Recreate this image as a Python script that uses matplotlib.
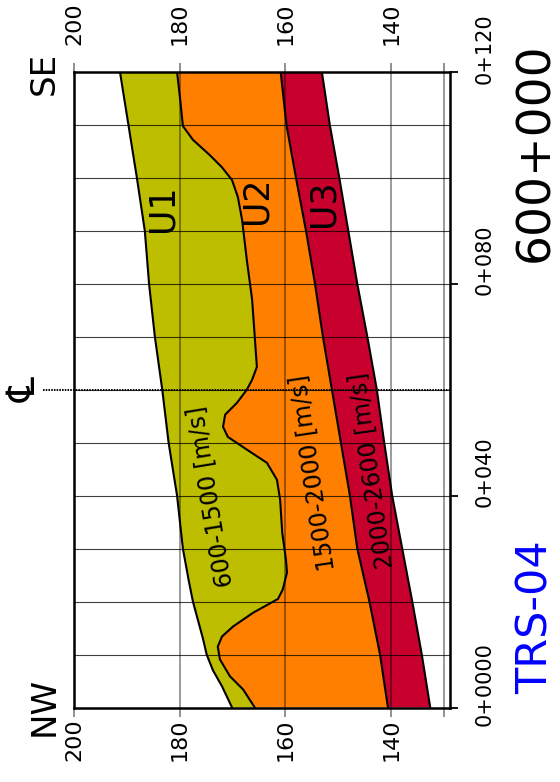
import matplotlib
matplotlib.use("Agg")
import matplotlib.pyplot as plt

# Seismic refraction section TRS-04, drawn turned on its side:
# horizontal axis = elevation (m), vertical axis = chainage (m)

# ground surface
surface_dist = [0, 4, 7, 10, 13, 20, 24, 30, 40, 50, 60, 70, 80, 90, 100, 110, 120]
surface_elev = [170.1, 172.0, 173.7, 174.9, 175.6, 177.5, 178.3, 179.4, 180.5,
                182.1, 183.3, 184.7, 185.8, 186.6, 188.1, 189.7, 191.3]

# U1 / U2 interface
u1u2_dist = [0, 3.4, 5.9, 9.1, 11.5, 13.4, 15.3, 17.9, 20.5, 22.3, 25.5, 27.9, 33,
             39.2, 43, 46.2, 48.7, 51.1, 53, 55.3, 57.5, 60, 61.9, 64.3, 70, 77,
             84.5, 92.1, 96.4, 99.6, 102, 104.3, 107.2, 109.8, 114.7, 120]
u1u2_elev = [165.8, 168.0, 170.5, 172.4, 172.8, 172.0, 169.9, 166.1, 161.4, 160.5,
             159.7, 159.9, 160.6, 161.0, 161.6, 163.5, 167.3, 170.9, 171.8, 171.4,
             169.2, 167.3, 166.3, 165.4, 165.8, 166.3, 167.3, 168.2, 169.0, 170.1,
             172.0, 174.3, 177.5, 179.4, 179.9, 180.5]

# U2 / U3 interface
u2u3_dist = [0, 10, 20, 30, 40, 50, 60, 70, 80, 90, 100, 110, 120]
u2u3_elev = [140.6, 142.1, 144.1, 146.4, 147.8, 149.5, 151.2, 152.9, 154.4,
             156.1, 158.0, 159.8, 160.9]

# base of U3
u3base_dist = [0, 10, 20, 30, 40, 50, 60, 70, 80, 90, 100, 110, 120]
u3base_elev = [132.6, 134.2, 136.0, 137.9, 139.8, 141.3, 142.7, 144.5, 146.4,
               148.1, 149.8, 151.6, 153.1]

layer_names = ["U1", "U2", "U3"]
velocity_labels = ["600-1500 [m/s]", "1500-2000 [m/s]", "2000-2600 [m/s]"]
layer_colors = ["#BEBE00", "#FF8000", "#C8002D"]

elev_ticks = [200, 180, 160, 140, 130]
elev_ticklabels = ["200", "180", "160", "140", ""]
dist_ticks = [0, 40, 80, 120]
dist_ticklabels = ["0+0000", "0+040", "0+080", "0+120"]
grid_dist = [10, 20, 30, 40, 50, 60, 70, 80, 90, 100, 110]
centerline_dist = 60

W, H = 560, 782
fig = plt.figure(figsize=(W / 100, H / 100), dpi=100)
ax = fig.add_axes([74 / W, 1 - 707.5 / H, 376 / W, 635.5 / H])
ax.set_xlim(200, 128.86)
ax.set_ylim(0, 120)


def band(top_e, top_d, bot_e, bot_d):
    return list(top_e) + list(bot_e)[::-1], list(top_d) + list(bot_d)[::-1]


bands = [
    band(surface_elev, surface_dist, u1u2_elev, u1u2_dist),
    band(u1u2_elev, u1u2_dist, u2u3_elev, u2u3_dist),
    band(u2u3_elev, u2u3_dist, u3base_elev, u3base_dist),
]
for (xe, yd), col in zip(bands, layer_colors):
    ax.fill(xe, yd, color=col, lw=0, zorder=1)

# grid
for d in grid_dist:
    ax.axhline(d, color="black", lw=0.8, alpha=0.75, zorder=2)
for e in elev_ticks[1:]:
    ax.axvline(e, color="black", lw=1.1, alpha=0.5, zorder=2)

# interfaces
for xe, yd in [(surface_elev, surface_dist), (u1u2_elev, u1u2_dist),
               (u2u3_elev, u2u3_dist), (u3base_elev, u3base_dist)]:
    ax.plot(xe, yd, color="black", lw=1.5, zorder=3, solid_joinstyle="round")

# centre line
ax.plot([-0.082, 1.0], [centerline_dist, centerline_dist], transform=ax.get_yaxis_transform(),
        color="black", lw=1.4, ls=(0, (0.8, 0.6)), clip_on=False, zorder=4)
ax.text(-0.13, centerline_dist, "\u2104", transform=ax.get_yaxis_transform(),
        rotation=90, ha="center", va="center", fontsize=28, zorder=5)

# axes frame and ticks
for s in ax.spines.values():
    s.set_linewidth(1.8)
    s.set_zorder(6)
ax.set_xticks(elev_ticks)
ax.set_xticklabels([])
ax.tick_params(axis="x", top=True, bottom=True, direction="out", length=6.5,
               width=1.1, color=(0, 0, 0, 0.55))
ax.yaxis.tick_right()
ax.set_yticks(dist_ticks)
ax.set_yticklabels([])
ax.tick_params(axis="y", left=False, right=True, direction="out", length=6,
               width=1.3, color="black")

for e, lbl in zip(elev_ticks, elev_ticklabels):
    if not lbl:
        continue
    ax.annotate(lbl, xy=(e, 1), xycoords=("data", "axes fraction"), xytext=(0, 19.5),
                textcoords="offset points", rotation=90, ha="center", va="bottom",
                fontsize=16)
    ax.annotate(lbl, xy=(e, 0), xycoords=("data", "axes fraction"), xytext=(0, -8),
                textcoords="offset points", rotation=90, ha="center", va="top",
                fontsize=16)

for d, lbl in zip(dist_ticks, dist_ticklabels):
    ax.annotate(lbl, xy=(1, d), xycoords=("axes fraction", "data"), xytext=(18, 17),
                textcoords="offset points", rotation=90, ha="left", va="center",
                fontsize=15)

# layer names and velocities
name_pos = [(183.3, 94.3), (165.4, 95.7), (152.7, 95.3)]
for (e, d), name in zip(name_pos, layer_names):
    ax.text(e, d, name, rotation=90, ha="center", va="center", fontsize=25,
            rotation_mode="anchor", zorder=5)

vel_pos = [(174.1, 39.8, 99.3), (154.8, 44.3, 98.4), (143.8, 44.7, 98.0)]
for (e, d, ang), lbl in zip(vel_pos, velocity_labels):
    ax.text(e, d, lbl, rotation=ang, ha="center", va="center", fontsize=17,
            rotation_mode="anchor", zorder=5)

# orientation and titles
fig.text(44 / W, 1 - 73 / H, "SE", rotation=90, ha="center", va="center", fontsize=24.5)
fig.text(44 / W, 1 - 706 / H, "NW", rotation=90, ha="center", va="center", fontsize=24.5)
fig.text(548 / W, 1 - 152 / H, "600+000", rotation=90, rotation_mode="anchor",
         ha="center", va="baseline", fontsize=34)
fig.text(548 / W, 1 - 617 / H, "TRS-04", rotation=90, rotation_mode="anchor",
         ha="center", va="baseline", fontsize=31, color="#0000FF")

fig.savefig("out.png", dpi=100)
